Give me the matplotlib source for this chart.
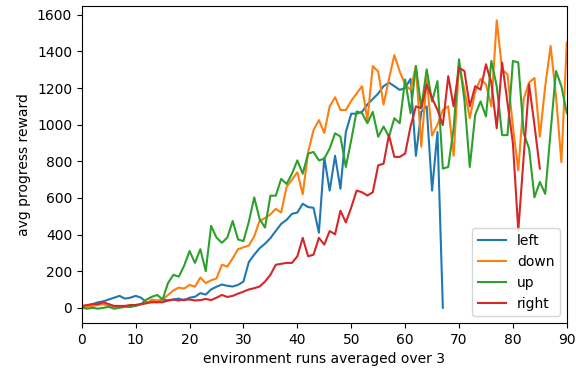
import numpy as np
import matplotlib
matplotlib.use("Agg")
import matplotlib.pyplot as plt

left = [0, 10, 20, 30, 35, 45, 55, 65, 50, 55,
        65, 55, 30, 35, 30, 45, 40, 45, 50, 40,
        55, 60, 80, 72, 100, 115, 127, 120, 116, 125,
        143, 250, 290, 325, 350, 380, 420, 458, 480, 513,
        520, 568, 550, 546, 410, 820, 640, 830, 650, 960,
        1060, 1060, 1070, 1110, 1140, 1170, 1210, 1230, 1210, 1190,
        1200, 1250, 830, 1070, 1100, 640, 960, 0]

down = [0, 5, 10, 15, 20, 10, 5, 5, 10, 5,
        15, 20, 25, 45, 40, 45, 70, 95, 110, 105,
        125, 115, 165, 135, 150, 160, 235, 225, 270, 320,
        330, 340, 390, 475, 490, 510, 540, 520, 660, 700,
        740, 620, 850, 970, 1025, 955, 1100, 1150, 1080, 1080,
        1130, 1170, 1210, 1025, 1320, 1290, 1110, 1250, 1380, 1290,
        1220, 1190, 1320, 880, 1250, 940, 1000, 1080, 1100, 830,
        1330, 1190, 1035, 1180, 1250, 1220, 1100, 1570, 1300, 1275,
        990, 750, 1140, 1230, 1255, 935, 1210, 1430, 1155, 795,
        1450]

up = [0, -5, 0, -5, 0, 5, -5, 0, 5, 5,
      10, 20, 45, 60, 70, 45, 135, 180, 170, 230,
      310, 245, 320, 200, 447, 383, 355, 383, 474, 373,
      364, 470, 603, 484, 438, 612, 612, 704, 676, 732,
      805, 732, 842, 851, 805, 814, 870, 953, 935, 769,
      916, 1072, 1063, 1008, 1070, 934, 990, 934, 1035, 1008,
      1247, 1063, 1320, 1090, 1302, 1127, 1238, 760, 769, 980,
      1357, 1136, 769, 1054, 1127, 1045, 1348, 1210, 943, 943,
      1348, 1340, 953, 870, 603, 687, 622, 962, 1293, 1210,
      1063]

right = [10, 15, 20, 20, 30, 20, 10, 10, 10, 15,
         15, 20, 25, 30, 30, 30, 40, 45, 40, 45,
         45, 40, 42, 48, 42, 55, 70, 59, 65, 77,
         88, 100, 107, 116, 143, 180, 235, 240, 245, 245,
         281, 382, 281, 290, 382, 345, 419, 401, 530, 466,
         548, 640, 631, 613, 631, 778, 787, 943, 824, 824,
         842, 989, 1100, 1090, 1220, 1145, 1081, 998, 1265, 1100,
         1311, 1293, 1100, 1210, 1191, 1330, 1228, 980, 1339, 1118,
         898, 420, 824, 1220, 998, 760]

series = [("left", left), ("down", down), ("up", up), ("right", right)]

fig = plt.figure(figsize=(5.76, 3.68), dpi=100)
ax = fig.add_axes([0.142, 0.122, 0.842, 0.862])
for name, vals in series:
    ax.plot(np.arange(len(vals)), vals, label=name)
ax.set_xlim(0, 90)
ax.set_xlabel("environment runs averaged over 3")
ax.set_ylabel("avg progress reward")
ax.legend(loc="lower right")
fig.savefig("out.png", dpi=100)
